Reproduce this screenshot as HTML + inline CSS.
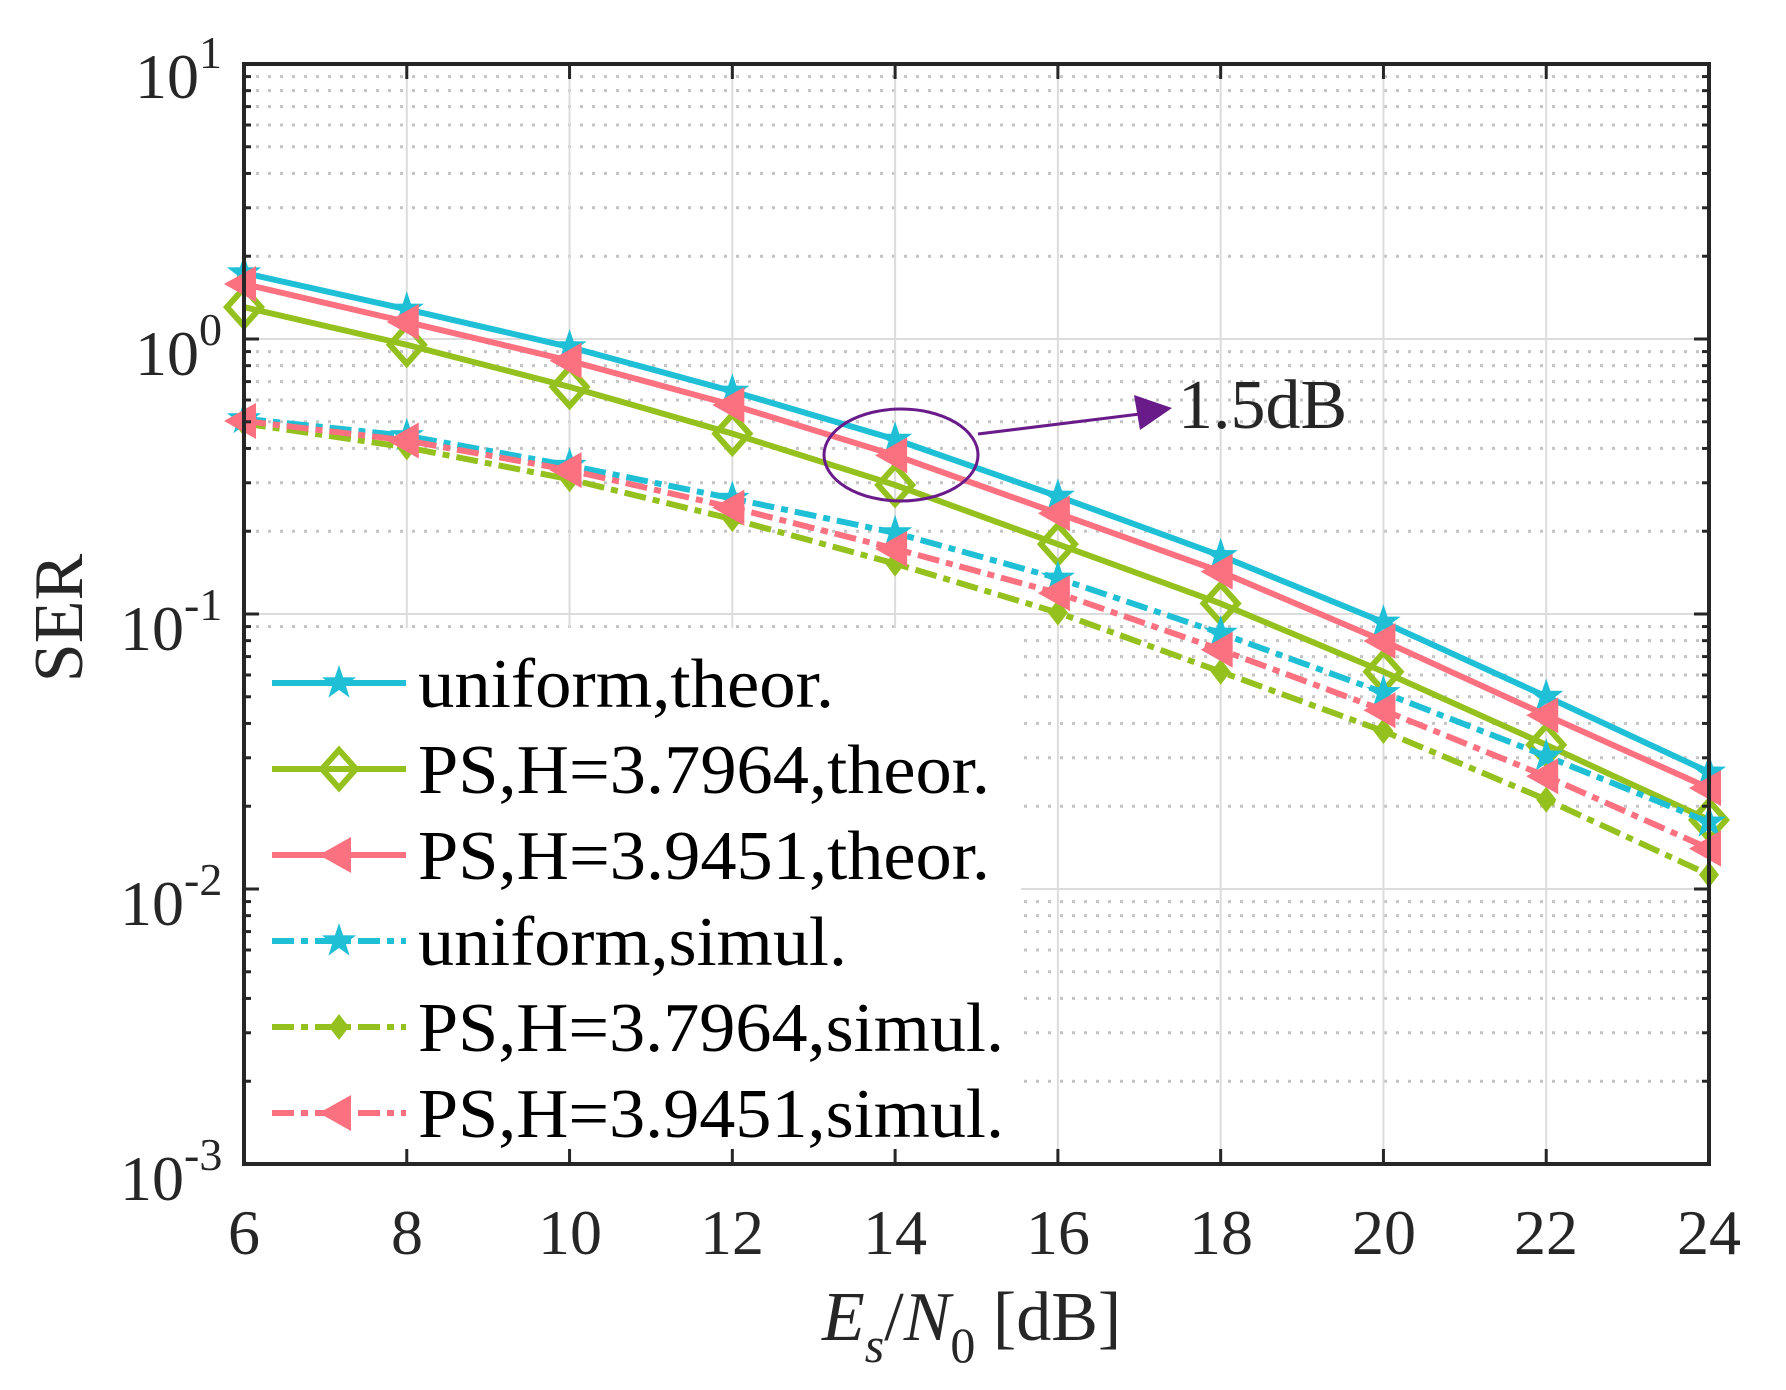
<!DOCTYPE html>
<html><head><meta charset="utf-8"><style>html,body{margin:0;padding:0;background:#fff}svg{display:block}</style></head>
<body>
<svg id="s" width="1786" height="1390" viewBox="0 0 1786 1390" xmlns="http://www.w3.org/2000/svg" font-family="'Liberation Serif',serif" fill="#262626">
<g id="grid"></g>
<g id="series"></g>
<g id="legend">
<rect x="247" y="628" width="774" height="533" fill="#fff"/>
</g>
<g id="frame"></g>
<g font-size="64">
<text x="244" y="1254" text-anchor="middle">6</text>
<text x="407" y="1254" text-anchor="middle">8</text>
<text x="570" y="1254" text-anchor="middle">10</text>
<text x="732" y="1254" text-anchor="middle">12</text>
<text x="895" y="1254" text-anchor="middle">14</text>
<text x="1058" y="1254" text-anchor="middle">16</text>
<text x="1221" y="1254" text-anchor="middle">18</text>
<text x="1384" y="1254" text-anchor="middle">20</text>
<text x="1546" y="1254" text-anchor="middle">22</text>
<text x="1709" y="1254" text-anchor="middle">24</text>
<text x="135" y="98">10<tspan dy="-30" font-size="46">1</tspan></text>
<text x="135" y="375">10<tspan dy="-30" font-size="46">0</tspan></text>
<text x="120" y="650">10<tspan dy="-30" font-size="46">-1</tspan></text>
<text x="120" y="925">10<tspan dy="-30" font-size="46">-2</tspan></text>
<text x="120" y="1200">10<tspan dy="-30" font-size="46">-3</tspan></text>
<text transform="translate(82,618) rotate(-90)" text-anchor="middle" font-size="70">SER</text>
<text x="822" y="1340" font-size="70"><tspan font-style="italic">E</tspan><tspan font-style="italic" font-size="50" dy="22">s</tspan><tspan dy="-22">/</tspan><tspan font-style="italic">N</tspan><tspan font-size="50" dy="22">0</tspan><tspan dy="-22"> [dB]</tspan></text>
<text x="1178" y="428" font-size="70">1.5dB</text>
</g>
<g fill="none" stroke="#6a1b8a" stroke-width="3">
<ellipse cx="901" cy="455" rx="77" ry="46"/>
<line x1="978" y1="434" x2="1140" y2="414"/>
</g>
<polygon points="1172,408 1134,395 1140,430" fill="#6a1b8a"/>
</svg>
<script>
const NS="http://www.w3.org/2000/svg";
const L=244,R=1709,T=64,B=1164,D=275;
const X=v=>L+(v-6)*(R-L)/18, Y=l=>T+(1-l)*D;
function el(p,t,a){const e=document.createElementNS(NS,t);for(const k in a)e.setAttribute(k,a[k]);p.appendChild(e);return e;}
const g=document.getElementById('grid'),f=document.getElementById('frame');
for(let d=1;d>=-3;d--){const y=Y(d);el(g,'line',{x1:L,x2:R,y1:y,y2:y,stroke:'#dcdcdc','stroke-width':2});
 if(d>-3)for(let m=2;m<=9;m++){const yy=Y(d-1+Math.log10(m));el(g,'line',{x1:L,x2:R,y1:yy,y2:yy,stroke:'#c4c4c4','stroke-width':3,'stroke-dasharray':'3 9'});
 el(f,'line',{x1:L,x2:L+7,y1:yy,y2:yy,stroke:'#262626','stroke-width':3});el(f,'line',{x1:R,x2:R-7,y1:yy,y2:yy,stroke:'#262626','stroke-width':3});}
 el(f,'line',{x1:L,x2:L+15,y1:y,y2:y,stroke:'#262626','stroke-width':3});el(f,'line',{x1:R,x2:R-15,y1:y,y2:y,stroke:'#262626','stroke-width':3});}
for(let v=6;v<=24;v+=2){const x=X(v);el(g,'line',{x1:x,x2:x,y1:T,y2:B,stroke:'#dcdcdc','stroke-width':2});
 el(f,'line',{x1:x,x2:x,y1:T,y2:T+15,stroke:'#262626','stroke-width':3});el(f,'line',{x1:x,x2:x,y1:B,y2:B-15,stroke:'#262626','stroke-width':3});}
el(f,'rect',{x:L,y:T,width:R-L,height:B-T,fill:'none',stroke:'#262626','stroke-width':4});
const C='#1fbfd6',G='#95c11f',P='#fc7180';
const S=[
 [C,'star',0,[0.24,0.108,-0.029,-0.19,-0.365,-0.572,-0.788,-1.03,-1.30,-1.575]],
 [G,'dia',0,[0.116,-0.021,-0.174,-0.344,-0.531,-0.746,-0.962,-1.21,-1.476,-1.749]],
 [P,'tri',0,[0.2,0.062,-0.079,-0.24,-0.423,-0.634,-0.846,-1.098,-1.368,-1.633]],
 [C,'star',1,[-0.29,-0.352,-0.46,-0.58,-0.705,-0.87,-1.07,-1.286,-1.517,-1.757]],
 [G,'fdia',1,[-0.307,-0.394,-0.51,-0.655,-0.817,-0.995,-1.21,-1.426,-1.675,-1.948]],
 [P,'tri',1,[-0.298,-0.369,-0.477,-0.613,-0.763,-0.924,-1.13,-1.35,-1.59,-1.853]]];
function marker(p,type,x,y,c){
 if(type=='star'){let pts=[];for(let i=0;i<10;i++){const r=i%2?7:18,a=-Math.PI/2+i*Math.PI/5;pts.push((x+r*Math.cos(a)).toFixed(1)+','+(y+r*Math.sin(a)).toFixed(1));}
  el(p,'polygon',{points:pts.join(' '),fill:c});}
 else if(type=='dia'){el(p,'polygon',{points:`${x},${y-19} ${x+17},${y} ${x},${y+19} ${x-17},${y}`,fill:'none',stroke:c,'stroke-width':6});}
 else if(type=='fdia'){el(p,'polygon',{points:`${x},${y-13} ${x+10},${y} ${x},${y+13} ${x-10},${y}`,fill:c});}
 else {el(p,'polygon',{points:`${x-20},${y} ${x+12},${y-18} ${x+12},${y+18}`,fill:c});}
}
const sg=document.getElementById('series');
S.forEach(s=>{const pts=s[3].map((l,i)=>X(6+2*i)+','+Y(l)).join(' ');
 el(sg,'polyline',{points:pts,fill:'none',stroke:s[0],'stroke-width':6,'stroke-dasharray':s[2]?'22 7 7 7':'none'});
 s[3].forEach((l,i)=>marker(sg,s[1],X(6+2*i),Y(l),s[0]));});
const lg=document.getElementById('legend');
const names=['uniform,theor.','PS,H=3.7964,theor.','PS,H=3.9451,theor.','uniform,simul.','PS,H=3.7964,simul.','PS,H=3.9451,simul.'];
const widths=[416,572,572,429,586,586];
S.forEach((s,i)=>{const y=683+i*86;
 el(lg,'line',{x1:272,x2:406,y1:y,y2:y,stroke:s[0],'stroke-width':6,'stroke-dasharray':s[2]?'22 7 7 7':'none'});
 marker(lg,s[1],339,y,s[0]);
 const t=el(lg,'text',{x:418,y:y+24,'font-size':70,fill:'#000',textLength:widths[i],lengthAdjust:'spacingAndGlyphs'});t.textContent=names[i];});
</script>
</body></html>
